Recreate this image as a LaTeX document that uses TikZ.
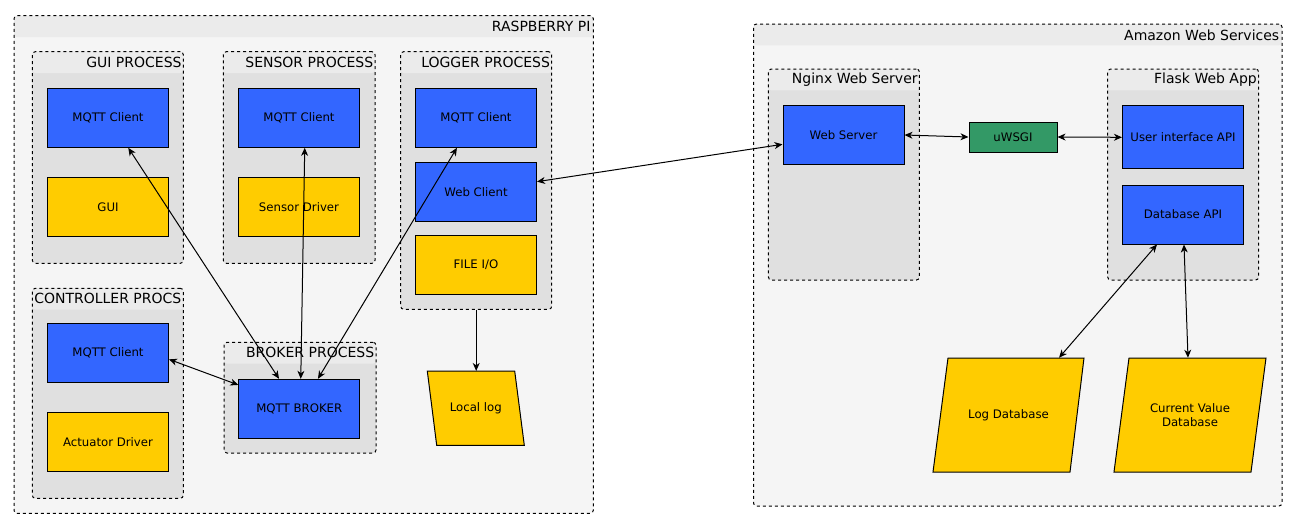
\documentclass[tikz,border=0pt]{standalone}
\usepackage{fontspec}
\setmainfont{DejaVu Sans}
\usetikzlibrary{arrows.meta,fit}
\definecolor{mqblue}{HTML}{3366FF}
\definecolor{drvyellow}{HTML}{FFCC00}
\definecolor{wsgigreen}{HTML}{339966}
\definecolor{outerbg}{HTML}{F5F5F5}
\definecolor{procbg}{HTML}{E0E0E0}
\definecolor{hdrbg}{HTML}{EBEBEB}
\begin{document}
\begin{tikzpicture}[x=0.75pt, y=-0.75pt,
        >={Stealth[length=6pt, width=5.2pt, inset=1.8pt]},
        box/.style={draw, line width=0.75pt, minimum width=90.75pt, minimum height=44.25pt,
            inner sep=0pt, font={\fontsize{8.8}{10.5}\selectfont}},
        client/.style={box, fill=mqblue},
        driver/.style={box, fill=drvyellow},
        store/.style={inner sep=0pt, align=center, font={\fontsize{8.8}{10.5}\selectfont}},
        storeshape/.style={fill=drvyellow, draw, line width=0.75pt},
        group/.style={draw, line width=0.75pt, dash pattern=on 2.25pt off 2.25pt, rounded corners=2.25pt,
            inner sep=0pt, path picture={\fill[hdrbg] (path picture bounding box.north west)
            rectangle ([yshift=-16pt]path picture bounding box.north east);}},
        ttl/.style={anchor=east, inner sep=0pt, font={\fontsize{10.5}{12}\selectfont}},
        link/.style={<->, line width=0.75pt}]
        \useasboundingbox (0,0) rectangle (1297,529);
        \node[group, fill=outerbg, fit={(14,15.7) (593.3,513.3)}] (rpi) {};
        \node[ttl] at ([xshift=-2.25pt, yshift=-8.5pt]rpi.north east) {RASPBERRY PI};
        \node[group, fill=outerbg, fit={(753.5,24) (1282,506)}] (aws) {};
        \node[ttl] at ([xshift=-2.25pt, yshift=-8.5pt]aws.north east) {Amazon Web Services};
        \node[group, fill=procbg, fit={(32.3,51.7) (183.3,263.3)}] (gui) {};
        \node[ttl] at ([xshift=-1.5pt, yshift=-8.3pt]gui.north east) {GUI PROCESS};
        \node[group, fill=procbg, fit={(223.3,51.7) (375,263.3)}] (sensor) {};
        \node[ttl] at ([xshift=-1.5pt, yshift=-8.3pt]sensor.north east) {SENSOR PROCESS};
        \node[group, fill=procbg, fit={(400.7,51.7) (551.7,309.3)}] (logger) {};
        \node[ttl] at ([xshift=-1.5pt, yshift=-8.3pt]logger.north east) {LOGGER PROCESS};
        \node[group, fill=procbg, fit={(32.3,288.3) (183.3,498.3)}] (ctl) {};
        \node[ttl, anchor=center] at ([yshift=-8.3pt]ctl.north) {CONTROLLER PROCS};
        \node[group, fill=procbg, fit={(224,342.3) (376,453)}] (brokerp) {};
        \node[ttl] at ([xshift=-1.5pt, yshift=-8.3pt]brokerp.north east) {BROKER PROCESS};
        \node[group, fill=procbg, fit={(768.4,69) (919.4,280)}] (nginx) {};
        \node[ttl] at ([xshift=-1.5pt, yshift=-8.3pt]nginx.north east) {Nginx Web Server};
        \node[group, fill=procbg, fit={(1107.7,69) (1258.6,280)}] (flask) {};
        \node[ttl] at ([xshift=-1.5pt, yshift=-8.3pt]flask.north east) {Flask Web App};
        \node[client] (guimq) at (108,117.8) {MQTT Client};
        \node[driver] (guidrv) at (108,206.8) {GUI};
        \node[client] (senmq) at (299,117.8) {MQTT Client};
        \node[driver] (sendrv) at (299,206.8) {Sensor Driver};
        \node[client] (logmq) at (476,117.8) {MQTT Client};
        \node[client] (webcl) at (476,191.8) {Web Client};
        \node[driver] (fileio) at (476,264.5) {FILE I/O};
        \node[client] (ctlmq) at (108,352.8) {MQTT Client};
        \node[driver] (actdrv) at (108,441.8) {Actuator Driver};
        \node[client] (broker) at (299.3,408.8) {MQTT BROKER};
        \filldraw[storeshape] (427.3,371) -- (514.7,371) -- (524.3,445.3) -- (436.7,445.3) -- cycle;
        \node[store, minimum width=72.75pt, minimum height=55.5pt] (locallog) at (475.8,408.2) {Local log};
        \node[client] (websrv) at (843.5,135) {Web Server};
        \node[box, fill=wsgigreen, minimum width=66pt, minimum height=22.5pt] (uwsgi) at (1013,137) {uWSGI};
        \node[client, minimum height=47.5pt] (uiapi) at (1183,137.3) {User interface API};
        \node[client] (dbapi) at (1183,214.5) {Database API};
        \filldraw[storeshape] (948,358) -- (1084,358) -- (1070,472) -- (933,472) -- cycle;
        \node[store, minimum width=113.25pt, minimum height=85.5pt] (logdb) at (1008.5,415) {Log Database};
        \filldraw[storeshape] (1129,358) -- (1266,358) -- (1251,472) -- (1114,472) -- cycle;
        \node[store, minimum width=114pt, minimum height=85.5pt] (cvdb) at (1190,415) {Current Value\\Database};
        \draw[link] ([xshift=15.2pt]guimq.south) -- ([xshift=-15.2pt]broker.north);
        \draw[link] ([xshift=4.3pt]senmq.south) -- ([xshift=1.1pt]broker.north);
        \draw[link] ([xshift=-14.3pt]logmq.south) -- ([xshift=14pt]broker.north);
        \draw[link] ([yshift=-4.9pt]ctlmq.east) -- ([yshift=17.9pt]broker.west);
        \draw[->, line width=0.75pt] (logger.south) -- (logger.south |- locallog.north);
        \draw[link] ([yshift=7.6pt]webcl.east) -- ([yshift=-7pt]websrv.west);
        \draw[link] (websrv.east) -- (uwsgi.west);
        \draw[link] (uwsgi.east) -- (uiapi.west);
        \draw[link] ([xshift=-19.5pt]dbapi.south) -- ([xshift=37.9pt]logdb.north);
        \draw[link] ([xshift=0.75pt]dbapi.south) -- ([xshift=-1.5pt]cvdb.north);
    \end{tikzpicture}
\end{document}
